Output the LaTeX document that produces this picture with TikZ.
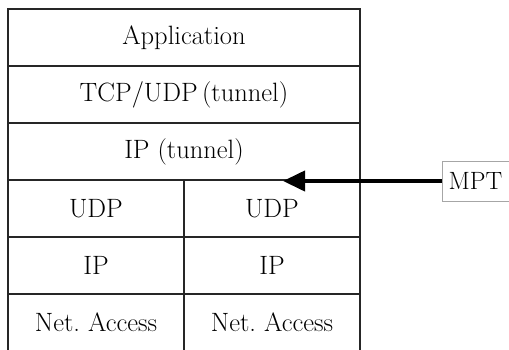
\documentclass[tikz,border=0pt]{standalone}
\usetikzlibrary{arrows.meta, positioning}

\tikzset{
  layer/.style={draw=black!85, line width=1.2pt, minimum height=57pt, inner sep=0pt, font=\fontsize{26.5}{30}\selectfont},
  wide/.style={layer, minimum width=352pt},
  half/.style={layer, minimum width=176pt},
  tag/.style={draw=black!35, fill=white, line width=0.8pt, minimum width=67pt, minimum height=40pt, inner sep=0pt, font=\fontsize{25}{28}\selectfont}
}

\begin{document}
\begin{tikzpicture}[x=1pt, y=-1pt]
  \useasboundingbox (0,0) rectangle (509,349);
  \clip (0,0) rectangle (509,349);

  % tunnel part of the stack
  \node[wide] (app) at (184, 37.5) {Application};
  \node[wide] (tcp) at (184, 94.5) {TCP/UDP\,(tunnel)};
  \node[wide] (iptun) at (184, 151.5) {IP (tunnel)};

  % two paths below
  \node[half] (udpa) at (96, 208.5) {UDP};
  \node[half] (udpb) at (272, 208.5) {UDP};
  \node[half] (ipa) at (96, 265.5) {IP};
  \node[half] (ipb) at (272, 265.5) {IP};
  \node[half] (neta) at (96, 322.5) {Net.\ Access};
  \node[half] (netb) at (272, 322.5) {Net.\ Access};

  % MPT pointer
  \node[tag] (mpt) at (475.5, 181) {MPT};
  \coordinate (tip) at (283, 181);
  \draw[line width=4pt, -{Triangle[length=22pt, width=20pt]}] (mpt.west) -- (tip);
\end{tikzpicture}
\end{document}
